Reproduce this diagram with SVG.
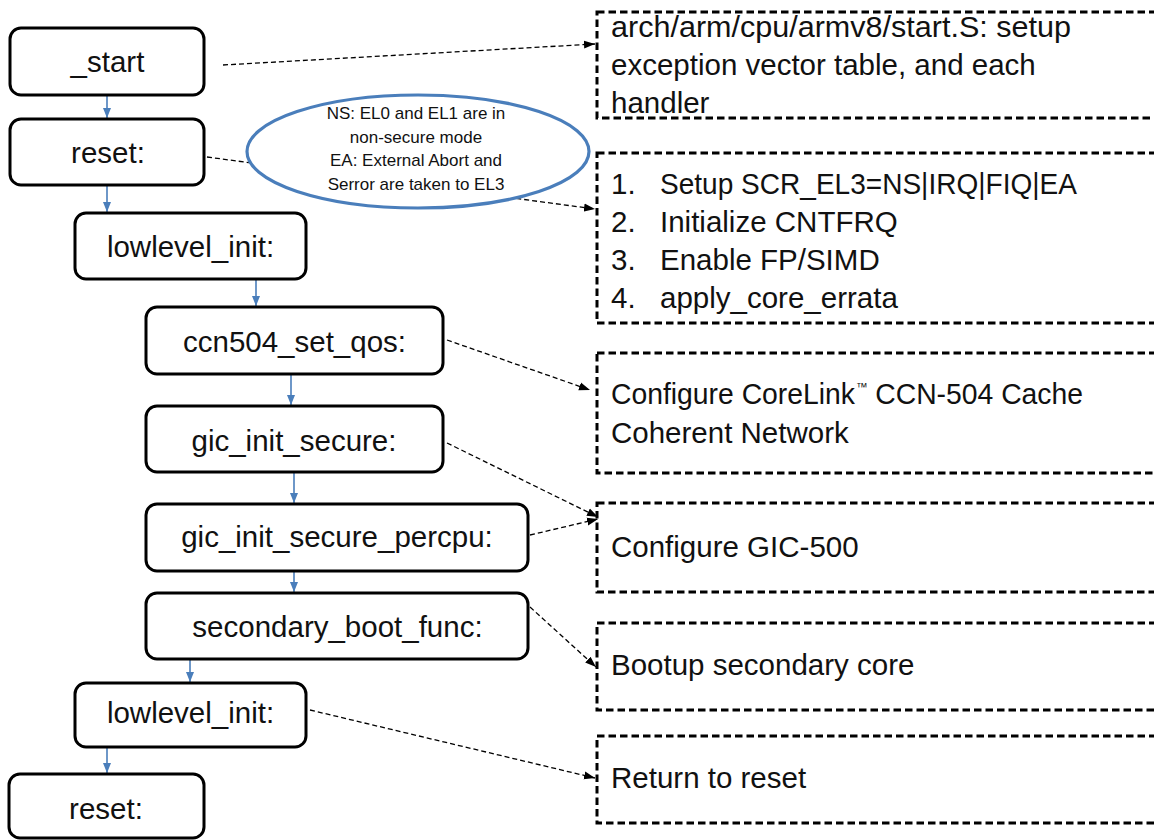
<svg xmlns="http://www.w3.org/2000/svg" width="1154" height="840" viewBox="0 0 1154 840">
  <style>
    .step { fill: #ffffff; stroke: #000000; stroke-width: 3; }
    .note { fill: none; stroke: #000000; stroke-width: 3; stroke-dasharray: 7.5 4; }
    .lbl { font-family: "Liberation Sans", Arial, sans-serif; font-size: 29.5px; fill: #111111; }
    .mid { text-anchor: middle; }
    .small { font-family: "Liberation Sans", Arial, sans-serif; font-size: 17px; fill: #111111; text-anchor: middle; }
    .flow { stroke: #4A7EBB; stroke-width: 1.6; fill: none; marker-end: url(#blueHead); }
    .link { stroke: #000000; stroke-width: 1.3; stroke-dasharray: 5 3; fill: none; marker-end: url(#blackHead); }
  </style>
  <defs>
    <marker id="blueHead" markerUnits="userSpaceOnUse" markerWidth="10" markerHeight="10" viewBox="0 0 10 10" refX="10" refY="5" orient="auto">
      <path d="M0,1 L10,5 L0,9 Z" fill="#4A7EBB"/>
    </marker>
    <marker id="blackHead" markerUnits="userSpaceOnUse" markerWidth="11" markerHeight="10" viewBox="0 0 11 10" refX="11" refY="5" orient="auto">
      <path d="M0,1 L11,5 L0,9 Z" fill="#000000"/>
    </marker>
  </defs>

  <rect width="1154" height="840" fill="#ffffff"/>

  <!-- dashed links from steps to their descriptions -->
  <g id="connectors">
    <line class="link" x1="223" y1="65" x2="595" y2="44"/>
    <line class="link" x1="207" y1="157" x2="595" y2="209"/>
    <line class="link" x1="447" y1="340" x2="590" y2="390"/>
    <line class="link" x1="447" y1="443" x2="598" y2="517"/>
    <line class="link" x1="530" y1="535" x2="598" y2="519"/>
    <line class="link" x1="530" y1="607" x2="596" y2="667"/>
    <line class="link" x1="310" y1="710" x2="595" y2="778"/>

    <!-- boot flow -->
    <line class="flow" x1="107" y1="96" x2="107" y2="118"/>
    <line class="flow" x1="107" y1="186" x2="107" y2="212"/>
    <line class="flow" x1="256" y1="280" x2="256" y2="306"/>
    <line class="flow" x1="291" y1="375" x2="291" y2="405"/>
    <line class="flow" x1="294" y1="473" x2="294" y2="503"/>
    <line class="flow" x1="294" y1="572" x2="294" y2="592"/>
    <line class="flow" x1="190" y1="660" x2="190" y2="682"/>
    <line class="flow" x1="107" y1="748" x2="107" y2="773"/>
  </g>

  <g id="start">
    <rect class="step" x="10" y="28" width="194" height="67" rx="11"/>
    <text class="lbl mid" x="107.5" y="72">_start</text>
  </g>
  <g id="reset">
    <rect class="step" x="10" y="119" width="194" height="66" rx="11"/>
    <text class="lbl mid" x="108" y="163">reset:</text>
  </g>
  <g id="lowlevel-init">
    <rect class="step" x="75" y="213" width="231" height="66" rx="11"/>
    <text class="lbl mid" x="190.5" y="257">lowlevel_init:</text>
  </g>
  <g id="ccn504-set-qos">
    <rect class="step" x="146" y="307" width="297" height="67" rx="11"/>
    <text class="lbl mid" x="294.5" y="352">ccn504_set_qos:</text>
  </g>
  <g id="gic-init-secure">
    <rect class="step" x="146" y="406" width="297" height="66" rx="11"/>
    <text class="lbl mid" x="294" y="451">gic_init_secure:</text>
  </g>
  <g id="gic-init-secure-percpu">
    <rect class="step" x="146" y="504" width="382" height="67" rx="11"/>
    <text class="lbl mid" x="337" y="547">gic_init_secure_percpu:</text>
  </g>
  <g id="secondary-boot-func">
    <rect class="step" x="146" y="593" width="382" height="66" rx="11"/>
    <text class="lbl mid" x="337.5" y="637">secondary_boot_func:</text>
  </g>
  <g id="lowlevel-init-2">
    <rect class="step" x="75" y="683" width="231" height="64" rx="11"/>
    <text class="lbl mid" x="190.5" y="723">lowlevel_init:</text>
  </g>
  <g id="reset-2">
    <rect class="step" x="9" y="774" width="195" height="64" rx="11"/>
    <text class="lbl mid" x="106" y="819">reset:</text>
  </g>

  <g id="scr-note">
    <ellipse cx="418" cy="151.5" rx="171" ry="56.5" fill="#ffffff" stroke="#4A7EBB" stroke-width="3.2"/>
    <text class="small" x="416" y="119">NS: EL0 and EL1 are in</text>
    <text class="small" x="416" y="143">non-secure mode</text>
    <text class="small" x="416" y="166">EA: External Abort and</text>
    <text class="small" x="416" y="190">Serror are taken to EL3</text>
  </g>

  <g id="desc-start">
    <rect class="note" x="597" y="12" width="580" height="106"/>
    <text class="lbl" x="611" y="37" textLength="460" lengthAdjust="spacingAndGlyphs">arch/arm/cpu/armv8/start.S: setup</text>
    <text class="lbl" x="611" y="75">exception vector table, and each</text>
    <text class="lbl" x="611" y="113">handler</text>
  </g>
  <g id="desc-reset">
    <rect class="note" x="597" y="153" width="580" height="170"/>
    <text class="lbl" x="611" y="194">1.</text><text class="lbl" x="660" y="194" textLength="417" lengthAdjust="spacingAndGlyphs">Setup SCR_EL3=NS|IRQ|FIQ|EA</text>
    <text class="lbl" x="611" y="232">2.</text><text class="lbl" x="660" y="232">Initialize CNTFRQ</text>
    <text class="lbl" x="611" y="270">3.</text><text class="lbl" x="660" y="270">Enable FP/SIMD</text>
    <text class="lbl" x="611" y="308">4.</text><text class="lbl" x="660" y="308">apply_core_errata</text>
  </g>
  <g id="desc-ccn504">
    <rect class="note" x="597" y="353" width="580" height="120"/>
    <text class="lbl" x="611" y="404" textLength="472" lengthAdjust="spacingAndGlyphs">Configure CoreLink<tspan font-size="12" dx="1" dy="-13">™</tspan><tspan dy="13"> CCN-504 Cache</tspan></text>
    <text class="lbl" x="611" y="443">Coherent Network</text>
  </g>
  <g id="desc-gic">
    <rect class="note" x="597" y="503" width="580" height="89"/>
    <text class="lbl" x="611" y="557">Configure GIC-500</text>
  </g>
  <g id="desc-secondary">
    <rect class="note" x="597" y="623" width="580" height="87"/>
    <text class="lbl" x="611" y="675">Bootup secondary core</text>
  </g>
  <g id="desc-return">
    <rect class="note" x="597" y="736" width="580" height="87"/>
    <text class="lbl" x="611" y="788">Return to reset</text>
  </g>
</svg>
